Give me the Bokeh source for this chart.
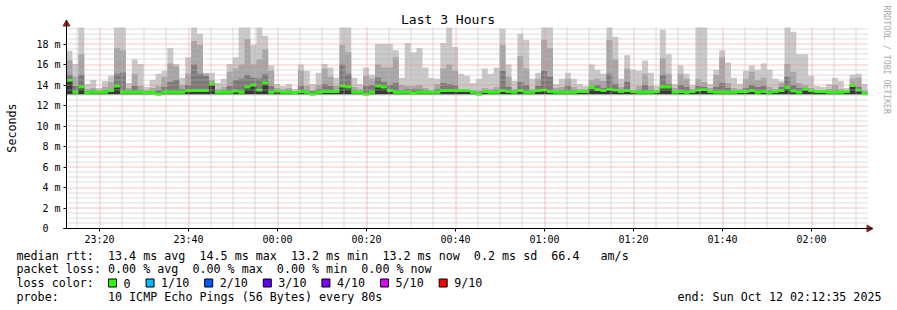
import math
from bokeh.plotting import figure
from bokeh.models import FixedTicker, Range1d
from bokeh.core.properties import value
from bokeh.embed import file_html
from bokeh.resources import INLINE

# ---------------- data (ms), one value per 80 s step ----------------
light_ms = [17.35, 16.05, 19.6, 14.1, 14.5, 13.7, 14.4, 14.9, 19.6, 19.6, 14.2, 16.5, 16.05, 13.8, 14.5, 15.1, 15.4, 17.6, 16.05, 14.7, 16.7, 19.6, 19.0, 15.2, 15.2, 14.2, 14.6, 16.05,
            16.7, 19.6, 19.6, 17.9, 19.6, 18.8, 15.9, 14.1, 13.9, 14.1, 13.6, 16.0, 15.4, 14.1, 15.2, 16.05, 15.7, 14.7, 19.6, 19.6, 14.7, 14.1, 15.7, 15.0, 18.0, 18.0, 18.0,
            17.4, 14.7, 18.1, 17.2, 17.6, 15.7, 14.7, 14.6, 18.1, 19.6, 17.7, 15.1, 14.9, 14.2, 14.6, 15.6, 15.1, 15.7, 19.5, 16.0, 14.4, 19.0, 18.4, 14.6, 15.2, 19.6, 19.6,
            14.1, 14.6, 15.2, 14.6, 14.1, 13.9, 16.0, 15.5, 15.1, 19.6, 18.7, 14.6, 16.9, 15.5, 15.4, 16.4, 15.2, 13.9, 19.4, 17.0, 14.1, 15.9, 15.1, 14.0, 19.6, 19.6, 14.1,
            15.5, 17.4, 16.2, 14.7, 14.1, 15.4, 15.9, 15.5, 16.1, 15.5, 14.6, 14.4, 19.6, 19.2, 17.0, 17.0, 14.9, 13.9, 13.8, 14.1, 14.7, 14.4, 13.7, 15.0, 15.1, 14.1]
mid_ms = [16.4, 14.8, 17.0, 13.6, 13.7, 13.5, 13.8, 14.3, 17.6, 17.4, 13.7, 15.1, 13.9, 13.5, 13.7, 13.9, 14.8, 16.1, 15.8, 14.0, 15.1, 18.3, 17.9, 15.1, 14.5, 13.6, 13.8, 15.3,
          15.6, 16.0, 18.5, 16.0, 16.5, 17.5, 15.4, 13.7, 13.6, 13.7, 13.4, 15.4, 13.9, 13.5, 14.0, 15.6, 14.8, 13.9, 17.9, 17.2, 13.8, 13.6, 14.9, 14.6, 16.0, 15.7, 15.7,
          16.7, 14.0, 13.9, 13.9, 14.0, 13.7, 13.5, 14.1, 15.6, 16.0, 15.4, 13.6, 13.6, 13.5, 13.5, 13.7, 13.6, 13.8, 17.9, 14.8, 13.6, 16.8, 15.6, 13.6, 14.6, 18.4, 17.6,
          13.7, 13.8, 14.6, 13.8, 13.6, 13.6, 14.5, 14.6, 14.4, 18.4, 16.5, 13.8, 15.6, 13.5, 13.9, 15.1, 13.9, 13.5, 16.6, 15.1, 13.7, 15.1, 14.6, 13.6, 14.6, 14.3, 13.7,
          15.0, 16.7, 14.2, 13.7, 13.6, 14.6, 15.3, 14.5, 14.7, 13.8, 13.6, 14.2, 16.05, 15.3, 14.2, 14.0, 13.7, 13.5, 13.5, 13.6, 14.0, 13.6, 13.4, 14.6, 14.7, 13.5]
dark_ms = [15.0, 13.9, 15.0, 13.4, 13.5, 13.4, 13.5, 13.6, 15.1, 15.2, 13.5, 13.9, 13.5, 13.4, 13.4, 13.5, 13.8, 14.3, 14.5, 13.6, 14.0, 16.0, 15.1, 14.9, 14.2, 13.4, 13.5, 13.9,
           14.5, 14.6, 15.0, 14.7, 14.6, 15.1, 13.9, 13.5, 13.4, 13.5, 13.3, 13.9, 13.5, 13.4, 13.6, 14.1, 13.9, 13.5, 16.0, 15.1, 13.5, 13.4, 13.9, 14.0, 14.7, 14.3, 14.0,
           14.2, 13.5, 13.6, 13.6, 13.6, 13.5, 13.4, 13.6, 14.2, 14.1, 14.0, 13.4, 13.4, 13.4, 13.3, 13.5, 13.4, 13.5, 15.4, 13.8, 13.4, 14.3, 14.0, 13.4, 13.9, 15.4, 14.8,
           13.4, 13.5, 13.9, 13.5, 13.4, 13.4, 13.8, 14.0, 13.7, 15.1, 14.1, 13.5, 14.3, 13.4, 13.5, 14.0, 13.5, 13.4, 15.0, 14.1, 13.4, 14.0, 13.8, 13.4, 13.9, 13.8, 13.4,
           13.8, 14.2, 13.7, 13.4, 13.4, 13.7, 14.0, 13.8, 13.9, 13.5, 13.4, 13.8, 14.8, 14.0, 13.7, 13.7, 13.4, 13.3, 13.3, 13.4, 13.5, 13.4, 13.3, 14.0, 13.8, 13.3]
median_ms = [14.45, 13.3, 13.8, 13.25, 13.3, 13.3, 13.3, 13.45, 13.9, 13.3, 13.3, 13.3, 13.3, 13.25, 13.25, 13.1, 13.3, 13.3, 13.3, 13.3, 13.45, 13.45, 13.45, 13.45, 14.1, 13.3, 13.3, 13.3,
             13.4, 13.3, 13.8, 14.0, 13.5, 14.2, 13.3, 13.4, 13.3, 13.3, 13.25, 13.35, 13.3, 13.1, 13.3, 13.35, 13.35, 13.35, 13.9, 13.8, 13.3, 13.3, 13.1, 13.3, 13.9, 13.8, 13.45,
             13.3, 13.3, 13.3, 13.2, 13.3, 13.3, 13.3, 13.3, 13.45, 13.45, 13.45, 13.45, 13.45, 13.3, 13.1, 13.35, 13.3, 13.3, 13.45, 13.35, 13.3, 13.45, 13.3, 13.3, 13.45, 13.5, 13.35,
             13.3, 13.3, 13.3, 13.3, 13.35, 13.35, 13.75, 13.55, 13.45, 13.6, 13.5, 13.35, 13.45, 13.35, 13.3, 13.3, 13.3, 13.35, 13.8, 13.8, 13.3, 13.35, 13.3, 13.35, 13.5, 13.55, 13.35,
             13.3, 13.3, 13.3, 13.3, 13.35, 13.35, 13.45, 13.3, 13.35, 13.3, 13.35, 13.45, 13.75, 13.4, 13.3, 13.6, 13.45, 13.35, 13.35, 13.3, 13.3, 13.3, 13.35, 13.95, 13.5, 13.15]
min_rtt_ms = 13.1

tick_minutes = [20, 40, 60, 80, 100, 120, 140, 160, 180]   # minutes after 23:00
tick_labels = ["23:20", "23:40", "00:00", "00:20", "00:40", "01:00", "01:20", "01:40", "02:00"]
y_ticks = [0, 2, 4, 6, 8, 10, 12, 14, 16, 18]
y_labels = ["0\u00a0\u00a0", "2 m", "4 m", "6 m", "8 m", "10 m", "12 m", "14 m", "16 m", "18 m"]

title_text = "Last 3 Hours"
y_title = "Seconds"
watermark = "RRDTOOL / TOBI OETIKER"
legend_rows = [
    "median rtt:  13.4 ms avg  14.5 ms max  13.2 ms min  13.2 ms now  0.2 ms sd  66.4   am/s",
    "packet loss: 0.00 % avg  0.00 % max  0.00 % min  0.00 % now",
    "loss color:",
    "probe:       10 ICMP Echo Pings (56 Bytes) every 80s",
]
end_text = "end: Sun Oct 12 02:12:35 2025"
loss_labels = ["0", "1/10", "2/10", "3/10", "4/10", "5/10", "9/10"]
loss_colors = ["#26ff00", "#00b8ff", "#0059ff", "#5e00ff", "#7e00ff", "#dd00ff", "#ff0000"]

# ---------------- geometry ----------------
MONO = "DejaVu Sans Mono"
W, H = 897, 310
N = len(median_ms)
START = 12 + 35 / 60.0          # 23:12:35 (minutes after 23:00)
STEP = 80 / 60.0                # 80 s per step
END = START + N * STEP
PX = 4.45                       # px per minute
PY = 10.25                      # px per ms
X0_PX, Y0_PX = 66, 228          # where (START, 0) sits on the canvas
YCAP = 201 / PY                 # top of the graph area
YARROW = 208 / PY               # tip of the y-axis arrow

p = figure(width=W, height=H, output_backend="svg", toolbar_location=None, title=None,
           x_range=Range1d(START - X0_PX / PX, START + (W - X0_PX) / PX),
           y_range=Range1d(-(H - Y0_PX) / PY, Y0_PX / PY),
           min_border=0, outline_line_color=None,
           background_fill_color="white", border_fill_color="white")
p.extra_x_ranges = {"px": Range1d(0, W)}
p.extra_y_ranges = {"px": Range1d(H, 0)}
p.grid.visible = False

edges = [START + i * STEP for i in range(N + 1)]
def ext(a):
    return list(a) + [a[-1]]

# smoke + median
low = [min_rtt_ms] * (N + 1)
p.varea_step(x=edges, y1=low, y2=ext(light_ms), step_mode="after", fill_color="#c9c9c9")
p.varea_step(x=edges, y1=low, y2=ext(mid_ms), step_mode="after", fill_color="#a6a6a6")
p.varea_step(x=edges, y1=low, y2=ext(dark_ms), step_mode="after", fill_color="#7a7a7a")
p.varea_step(x=edges, y1=low, y2=ext(median_ms), step_mode="after", fill_color="#383838")
half = 1.45 / PY
p.varea_step(x=edges, y1=[m - half for m in ext(median_ms)], y2=[m + half for m in ext(median_ms)],
             step_mode="after", fill_color=loss_colors[0])

# grid (over the smoke, like rrdtool), snapped to pixel centres so the dots stay crisp
def snap_y(v):
    px = Y0_PX - v * PY
    return (Y0_PX - (math.floor(px) + 0.5)) / PY

def snap_x(m):
    px = X0_PX + (m - START) * PX
    return START + (math.floor(px) + 0.5 - X0_PX) / PX

vminor = [snap_x(m) for m in range(15, 195, 5) if m % 20 and START < m < END]
vmajor = [snap_x(m) for m in tick_minutes]
hminor = [snap_y(k * 0.5) for k in range(1, 40) if k % 4]
hmajor = [snap_y(t) for t in y_ticks if t > 0]
minor_col, major_col = "#b9b9b9", "#f08a8a"
p.segment(x0=vminor, y0=[0] * len(vminor), x1=vminor, y1=[YCAP] * len(vminor),
          line_color=minor_col, line_dash="1 1", line_width=1)
p.segment(x0=[START] * len(hminor), y0=hminor, x1=[END] * len(hminor), y1=hminor,
          line_color=minor_col, line_dash="1 1", line_width=1)
p.segment(x0=vmajor, y0=[0] * len(vmajor), x1=vmajor, y1=[YCAP] * len(vmajor),
          line_color=major_col, line_dash="1 1", line_width=1)
p.segment(x0=[START] * len(hmajor), y0=hmajor, x1=[END] * len(hmajor), y1=hmajor,
          line_color=major_col, line_dash="1 1", line_width=1)

# axes, pinned to (START, 0)
p.xaxis.fixed_location = 0
p.yaxis.fixed_location = START
p.xaxis.bounds = (START - 3.3 / PX, END + 5 / PX)
p.yaxis.bounds = (0, YARROW)
p.xaxis.ticker = FixedTicker(ticks=tick_minutes, minor_ticks=[])
p.xaxis.major_label_overrides = {t: l for t, l in zip(tick_minutes, tick_labels)}
p.yaxis.ticker = FixedTicker(ticks=y_ticks, minor_ticks=[])
p.yaxis.major_label_overrides = {t: l for t, l in zip(y_ticks, y_labels)}
for ax in (p.xaxis, p.yaxis):
    ax.axis_line_color = "black"
    ax.major_tick_line_color = "black"
    ax.major_tick_in = 0
    ax.major_tick_out = 3
    ax.minor_tick_in = 0
    ax.minor_tick_out = 0
    ax.major_label_text_font = MONO
    ax.major_label_text_font_size = "10px"
    ax.major_label_text_color = "black"
p.xaxis.major_label_standoff = 2
p.yaxis.major_label_standoff = 3

# arrow heads
head_col = "#8b2424"
p.scatter(x=[START], y=[YARROW - 3.5 / PY], marker="triangle", size=7,
          fill_color=head_col, line_color=head_col)
p.scatter(x=[END + 1.5 / PX], y=[0], marker="triangle", size=7, angle=-math.pi / 2,
          fill_color=head_col, line_color=head_col)

# ---------------- texts in canvas pixels ----------------
nb = lambda s: s.replace(" ", "\u00a0")
TXT = dict(x_range_name="px", y_range_name="px", text_font=value(MONO), text_color="black")

p.text(x=[447.5], y=[19], text=[title_text], text_align="center", text_baseline="middle",
       text_font_size="13px", **TXT)
p.text(x=[11], y=[127.5], text=[y_title], angle=math.pi / 2, text_align="center",
       text_baseline="middle", text_font_size="11.7px", **TXT)
p.text(x=[886], y=[5], text=[watermark], angle=-math.pi / 2, text_align="left",
       text_baseline="middle", text_font_size="8.2px", x_range_name="px", y_range_name="px",
       text_font=value(MONO), text_color="#aaaaaa")

row_y = [255, 268.5, 282.5, 296.5]
p.text(x=[16] * len(legend_rows), y=row_y, text=[nb(r) for r in legend_rows],
       text_baseline="middle", text_font_size="11.7px", **TXT)
p.text(x=[881], y=[row_y[3]], text=[nb(end_text)], text_align="right",
       text_baseline="middle", text_font_size="11.7px", **TXT)

bx, tx = [], []
cur = 108.0
for lab in loss_labels:
    bx.append(cur)
    tx.append(cur + 15)
    cur = cur + 15 + (len(lab) + 2) * 7.02 + 1.5
p.quad(left=bx, right=[b + 8 for b in bx], top=[row_y[2] - 4] * len(bx),
       bottom=[row_y[2] + 4] * len(bx), fill_color=loss_colors, line_color="black",
       line_width=1, x_range_name="px", y_range_name="px")
p.text(x=tx, y=[row_y[2]] * len(tx), text=[nb(l) for l in loss_labels],
       text_baseline="middle", text_font_size="11.7px", **TXT)

open("out.html", "w").write(file_html(p, INLINE))
